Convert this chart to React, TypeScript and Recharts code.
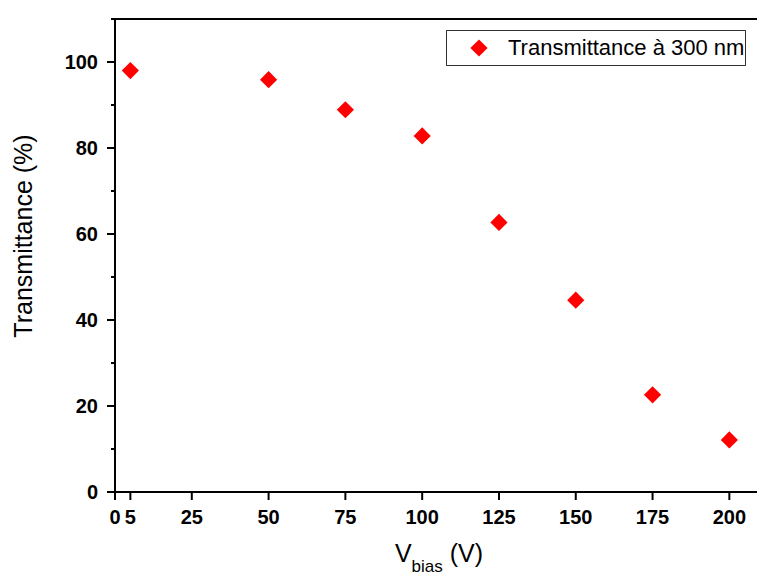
import React from 'react';
import { ScatterChart, Scatter, XAxis, YAxis } from 'recharts';

const biasVoltages = [5, 50, 75, 100, 125, 150, 175, 200];
const transmittance = [98.0, 95.9, 88.9, 82.8, 62.7, 44.6, 22.6, 12.1];
const xTicks = [0, 5, 25, 50, 75, 100, 125, 150, 175, 200];
const yTicks = [0, 10, 20, 30, 40, 50, 60, 70, 80, 90, 100, 110];
const seriesName = 'Transmittance à 300 nm';

const data = biasVoltages.map((v, i) => ({ x: v, y: transmittance[i] }));

const FONT = "Arial, 'Liberation Sans', sans-serif";
const RED = '#ff0000';

const Diamond = (props: any) => {
  const { cx, cy } = props;
  const r = 8.6;
  return <path d={`M${cx},${cy - r}L${cx + r},${cy}L${cx},${cy + r}L${cx - r},${cy}Z`} fill={RED} />;
};

const YTick = (props: any) => {
  const { x, y, payload } = props;
  const major = payload.value % 20 === 0 && payload.value <= 100;
  const len = major ? 8 : 4;
  return (
    <g>
      <line x1={x - len} x2={x} y1={y} y2={y} stroke="#000" strokeWidth={2} />
      {major && (
        <text x={x - 17} y={y} textAnchor="end" dominantBaseline="central" fontSize={20} fontWeight="bold" fontFamily={FONT} fill="#000">
          {payload.value}
        </text>
      )}
    </g>
  );
};

const YLabel = () => (
  <text transform="translate(32,236) rotate(-90)" textAnchor="middle" fontSize={25} fontFamily={FONT} fill="#000">
    Transmittance (%)
  </text>
);

const XLabel = () => (
  <text x={439} y={562} textAnchor="middle" fontSize={25} fontFamily={FONT} fill="#000">
    V
    <tspan fontSize={17} dy={9.5}>bias</tspan>
    <tspan dy={-9.5}> (V)</tspan>
  </text>
);

export default function App() {
  return (
    <div style={{ position: 'absolute', left: 0, top: 0, width: 757, height: 574, background: '#fff' }}>
      <ScatterChart width={757} height={574} margin={{ top: 18, right: 0, bottom: 0, left: 0 }}>
        <XAxis
          type="number"
          dataKey="x"
          domain={[0, 209]}
          ticks={xTicks}
          allowDataOverflow
          height={82}
          axisLine={{ stroke: '#000', strokeWidth: 2 }}
          tickLine={{ stroke: '#000', strokeWidth: 2 }}
          tickSize={8}
          tickMargin={10}
          tick={{ fontSize: 20, fontWeight: 'bold', fill: '#000', fontFamily: FONT }}
          interval={0}
          label={XLabel}
        />
        <XAxis
          xAxisId="top"
          orientation="top"
          type="number"
          dataKey="x"
          domain={[0, 209]}
          ticks={xTicks}
          allowDataOverflow
          height={1}
          axisLine={{ stroke: '#000', strokeWidth: 2 }}
          tickLine={{ stroke: '#000', strokeWidth: 2 }}
          tickSize={9}
          tick={false}
          interval={0}
        />
        <YAxis
          type="number"
          dataKey="y"
          domain={[0, 110]}
          ticks={yTicks}
          interval={0}
          width={115}
          axisLine={{ stroke: '#000', strokeWidth: 2 }}
          tickLine={false}
          tickSize={0}
          tickMargin={0}
          tick={YTick}
          label={YLabel}
        />
        <Scatter name={seriesName} data={data} fill={RED} shape={Diamond} isAnimationActive={false} />
      </ScatterChart>
      <div
        style={{
          position: 'absolute',
          left: 446,
          top: 30,
          width: 300,
          height: 36,
          border: '1px solid #333',
          boxSizing: 'border-box',
          fontFamily: FONT,
          fontSize: 22,
          color: '#000',
        }}
      >
        <svg width={20} height={20} style={{ position: 'absolute', left: 22, top: 7 }}>
          <path d="M10,1.4L18.6,10L10,18.6L1.4,10Z" fill={RED} />
        </svg>
        <span style={{ position: 'absolute', left: 61, top: 4, whiteSpace: 'nowrap', lineHeight: '26px' }}>{seriesName}</span>
      </div>
    </div>
  );
}
